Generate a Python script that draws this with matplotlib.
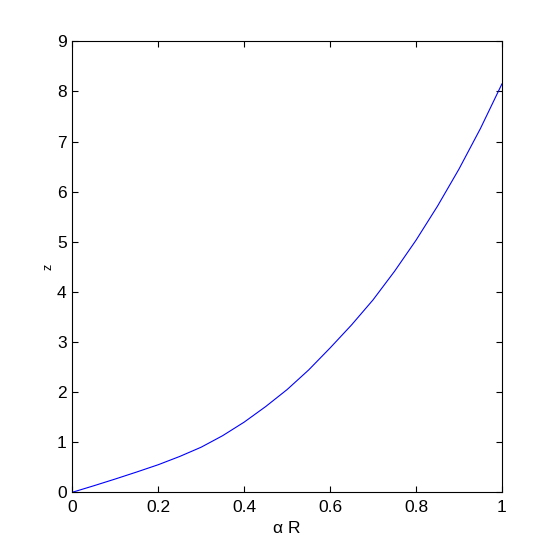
import matplotlib
matplotlib.use("Agg")
import matplotlib.pyplot as plt
from matplotlib import font_manager

names = {f.name for f in font_manager.fontManager.ttflist}
fam = ['Liberation Sans Narrow', 'Liberation Sans', 'DejaVu Sans']
fam = [f for f in fam if f in names] or ['DejaVu Sans']
plt.rcParams['font.family'] = fam

# data
alpha_R = [0.0, 0.05, 0.1, 0.15, 0.2, 0.25, 0.3, 0.35, 0.4, 0.45, 0.5,
           0.55, 0.6, 0.65, 0.7, 0.75, 0.8, 0.85, 0.9, 0.95, 1.0]
z_vals = [0.0, 0.13, 0.265, 0.405, 0.55, 0.715, 0.90, 1.13, 1.40, 1.71, 2.05,
          2.44, 2.88, 3.34, 3.84, 4.41, 5.03, 5.71, 6.45, 7.26, 8.15]
x_ticks = [0, 0.2, 0.4, 0.6, 0.8, 1]
x_ticklabels = ["0", "0.2", "0.4", "0.6", "0.8", "1"]
y_ticks = [0, 1, 2, 3, 4, 5, 6, 7, 8, 9]

fig = plt.figure(figsize=(5.54, 5.54), dpi=100)
ax = fig.add_axes([0.1305, 0.1114, 0.7755, 0.814])
ax.plot(alpha_R, z_vals, color=(0, 0, 1), lw=0.8)

ax.set_xlim(0, 1)
ax.set_ylim(0, 9)
ax.set_xticks(x_ticks)
ax.set_xticklabels(x_ticklabels)
ax.set_yticks(y_ticks)
ax.tick_params(direction='in', length=4, width=0.8, top=True, right=True,
               labelsize=12.5, colors='black')
ax.tick_params(axis='x', pad=5.5)
ax.tick_params(axis='y', pad=4)
for s in ax.spines.values():
    s.set_linewidth(0.8)
    s.set_color('black')

ax.set_xlabel("α R", fontsize=12.5, labelpad=4.5)
ax.set_ylabel("z", fontsize=9, labelpad=1.5)

fig.savefig("out.png", dpi=100, facecolor='white')
